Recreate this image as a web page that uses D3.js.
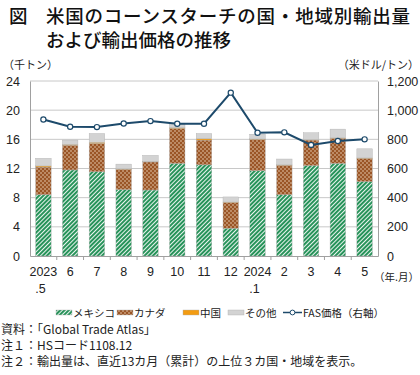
<!DOCTYPE html>
<html>
<head>
<meta charset="utf-8">
<script src="https://cdn.jsdelivr.net/npm/d3@7"></script>
<style>
  body { margin: 0; background: #fff; }
  svg { font-family: "Liberation Sans", Arial, "Noto Sans CJK JP", sans-serif; }
  .jp { font-family: "Noto Sans CJK JP", sans-serif; }
</style>
</head>
<body>
<div id="container"></div>
<script>
// 米国のコーンスターチ輸出量（千トン）と FAS価格（米ドル/トン）

const months = ["2023.5", "6", "7", "8", "9", "10", "11", "12", "2024.1", "2", "3", "4", "5"]
const mexico = [8.4, 11.8, 11.55, 9.1, 9.05, 12.7, 12.5, 3.8, 11.7, 8.4, 12.4, 12.7, 10.2]
const canada = [3.8, 3.4, 3.9, 2.8, 3.85, 4.8, 3.4, 3.55, 4.3, 4.05, 3.5, 3.45, 3.2]
const china = [0.15, 0.1, 0.15, 0.05, 0.05, 0.1, 0.2, 0.05, 0.05, 0.05, 0.05, 0.05, 0.05]
const other = [1.05, 0.6, 1.2, 0.65, 0.85, 0.45, 0.7, 0.7, 0.65, 0.8, 0.95, 1.2, 1.25]
const fasPrice = [936, 886, 884, 909, 925, 907, 907, 1120, 845, 848, 762, 789, 800]

const leftTicks = [0, 4, 8, 12, 16, 20, 24]
const rightTicks = [0, 200, 400, 600, 800, 1000, 1200]

const seriesNames = ["メキシコ", "カナダ", "中国", "その他"]
const seriesFill = ["url(#pMexico)", "url(#pCanada)", "#f39c12", "#d3d3d3"]

const width = 420, height = 375
const padding = { top: 81, right: 42, bottom: 118, left: 30 }

const svg = d3.select("#container").append("svg")
    .attr("width", width)
    .attr("height", height)

// patterns
const defs = svg.append("defs")
const pm = defs.append("pattern").attr("id", "pMexico")
    .attr("patternUnits", "userSpaceOnUse")
    .attr("width", 3).attr("height", 3)
    .attr("patternTransform", "rotate(45)")
pm.append("rect").attr("width", 3).attr("height", 3).attr("fill", "#ffffff")
pm.append("rect").attr("width", 2.1).attr("height", 3).attr("fill", "#27935a")

const pc = defs.append("pattern").attr("id", "pCanada")
    .attr("patternUnits", "userSpaceOnUse")
    .attr("width", 4).attr("height", 4)
pc.append("rect").attr("width", 4).attr("height", 4).attr("fill", "#9a5526")
pc.append("circle").attr("cx", 1).attr("cy", 1).attr("r", 0.75).attr("fill", "#f3dcc4")
pc.append("circle").attr("cx", 3).attr("cy", 3).attr("r", 0.75).attr("fill", "#f3dcc4")

// title
const title = svg.append("g").attr("class", "jp")
    .attr("font-size", 18.5).attr("font-weight", 500).attr("fill", "#111")
title.append("text").attr("x", 9).attr("y", 23).text("図")
title.append("text").attr("x", 46).attr("y", 23).attr("textLength", 364)
    .text("米国のコーンスターチの国・地域別輸出量")
title.append("text").attr("x", 46).attr("y", 47).text("および輸出価格の推移")

// scales
const x = d3.scaleBand()
    .domain(months)
    .range([padding.left, width - padding.right])
    .paddingInner(0.42)
    .paddingOuter(0.21)

const y = d3.scaleLinear().domain([0, 24]).range([height - padding.bottom - 1, padding.top])
const y2 = d3.scaleLinear().domain([0, 1200]).range(y.range())

// grid
svg.append("g").selectAll("line")
    .data(leftTicks.slice(1))
    .enter().append("line")
    .attr("x1", padding.left).attr("x2", width - padding.right)
    .attr("y1", d => y(d)).attr("y2", d => y(d))
    .attr("stroke", "#c8c8c8").attr("stroke-width", 1)

// axes
const leftAxis = svg.append("g")
    .attr("transform", `translate(${padding.left},0)`)
    .call(d3.axisLeft(y).tickValues(leftTicks).tickSize(0).tickPadding(10))
leftAxis.select(".domain").attr("stroke", "#a0a0a0")
leftAxis.selectAll("text").attr("font-size", 12.5).attr("fill", "#222")

const rightAxis = svg.append("g")
    .attr("transform", `translate(${width - padding.right},0)`)
    .call(d3.axisRight(y2).tickValues(rightTicks).tickSize(0).tickPadding(9)
        .tickFormat(d3.format(",")))
rightAxis.select(".domain").attr("stroke", "#a0a0a0")
rightAxis.selectAll("text").attr("font-size", 12.5).attr("fill", "#222")

// stacked bars
const table = months.map((m, i) => ({ month: m, mexico: mexico[i], canada: canada[i], china: china[i], other: other[i] }))
const stack = d3.stack().keys(["mexico", "canada", "china", "other"])(table)

svg.append("g").selectAll("g")
    .data(stack)
    .enter().append("g")
    .attr("fill", (d, i) => seriesFill[i])
    .selectAll("rect")
    .data(d => d)
    .enter().append("rect")
    .attr("x", d => x(d.data.month))
    .attr("width", x.bandwidth())
    .attr("y", d => y(d[1]))
    .attr("height", d => y(d[0]) - y(d[1]))
    .attr("stroke", "#b0b0b0")
    .attr("stroke-width", 0.4)

// x axis
const xAxis = svg.append("g")
    .attr("transform", `translate(0,${y(0)})`)
    .call(d3.axisBottom(x).tickSize(0).tickFormat(""))
xAxis.select(".domain").attr("stroke", "#a0a0a0")
xAxis.selectAll(".sep")
    .data(months.slice(1))
    .enter().append("line")
    .attr("x1", d => x(d) - x.step() * x.paddingInner() / 2)
    .attr("x2", d => x(d) - x.step() * x.paddingInner() / 2)
    .attr("y1", 0).attr("y2", 4)
    .attr("stroke", "#a0a0a0")

const xl = svg.append("g").attr("font-size", 12.5).attr("fill", "#222").attr("text-anchor", "middle")
months.forEach(m => {
    const cx = x(m) + x.bandwidth() / 2
    const parts = m.split(".")
    xl.append("text").attr("x", cx).attr("y", y(0) + 20).text(parts[0])
    if (parts[1]) xl.append("text").attr("x", cx - 3).attr("y", y(0) + 37).text("." + parts[1])
})

// FAS price line
const line = d3.line()
    .x((d, i) => x(months[i]) + x.bandwidth() / 2)
    .y(d => y2(d))
svg.append("path")
    .datum(fasPrice)
    .attr("d", line)
    .attr("fill", "none")
    .attr("stroke", "#1d4a6b")
    .attr("stroke-width", 2)
svg.append("g").selectAll("circle")
    .data(fasPrice)
    .enter().append("circle")
    .attr("cx", (d, i) => x(months[i]) + x.bandwidth() / 2)
    .attr("cy", d => y2(d))
    .attr("r", 2.6)
    .attr("fill", "#fff")
    .attr("stroke", "#1d4a6b")
    .attr("stroke-width", 1.2)

// unit labels
svg.append("text").attr("class", "jp").attr("x", 3).attr("y", 69)
    .attr("font-size", 11).attr("fill", "#222").text("（千トン）")
svg.append("text").attr("class", "jp").attr("x", 419).attr("y", 69)
    .attr("text-anchor", "end").attr("font-size", 11).attr("fill", "#222").text("（米ドル/トン）")
svg.append("text").attr("class", "jp").attr("x", 419).attr("y", 281)
    .attr("text-anchor", "end").attr("font-size", 10.5).attr("fill", "#222").text("（年.月）")

// legend
const legend = svg.append("g").attr("class", "jp").attr("font-size", 10.5).attr("fill", "#222")
const legendX = [56, 117, 183, 228]
seriesNames.forEach((name, i) => {
    legend.append("rect")
        .attr("x", legendX[i]).attr("y", 310)
        .attr("width", 16).attr("height", 5)
        .attr("fill", seriesFill[i])
        .attr("stroke", "#b0b0b0").attr("stroke-width", 0.4)
    legend.append("text").attr("x", legendX[i] + 17).attr("y", 316.5).text(name)
})
legend.append("line").attr("x1", 283).attr("x2", 302).attr("y1", 312.5).attr("y2", 312.5)
    .attr("stroke", "#1d4a6b").attr("stroke-width", 1.5)
legend.append("circle").attr("cx", 292.5).attr("cy", 312.5).attr("r", 2.4)
    .attr("fill", "#fff").attr("stroke", "#1d4a6b").attr("stroke-width", 1)
legend.append("text").attr("x", 303).attr("y", 316.5).text("FAS価格（右軸）")

// notes
const notes = ["資料：「Global Trade Atlas」", "注１：HSコード1108.12", "注２：輸出量は、直近13カ月（累計）の上位３カ国・地域を表示。"]
svg.append("g").attr("class", "jp").attr("font-size", 12).attr("fill", "#222")
    .selectAll("text")
    .data(notes)
    .enter().append("text")
    .attr("x", 1)
    .attr("y", (d, i) => 334 + i * 16)
    .text(d => d)
</script>
</body>
</html>
